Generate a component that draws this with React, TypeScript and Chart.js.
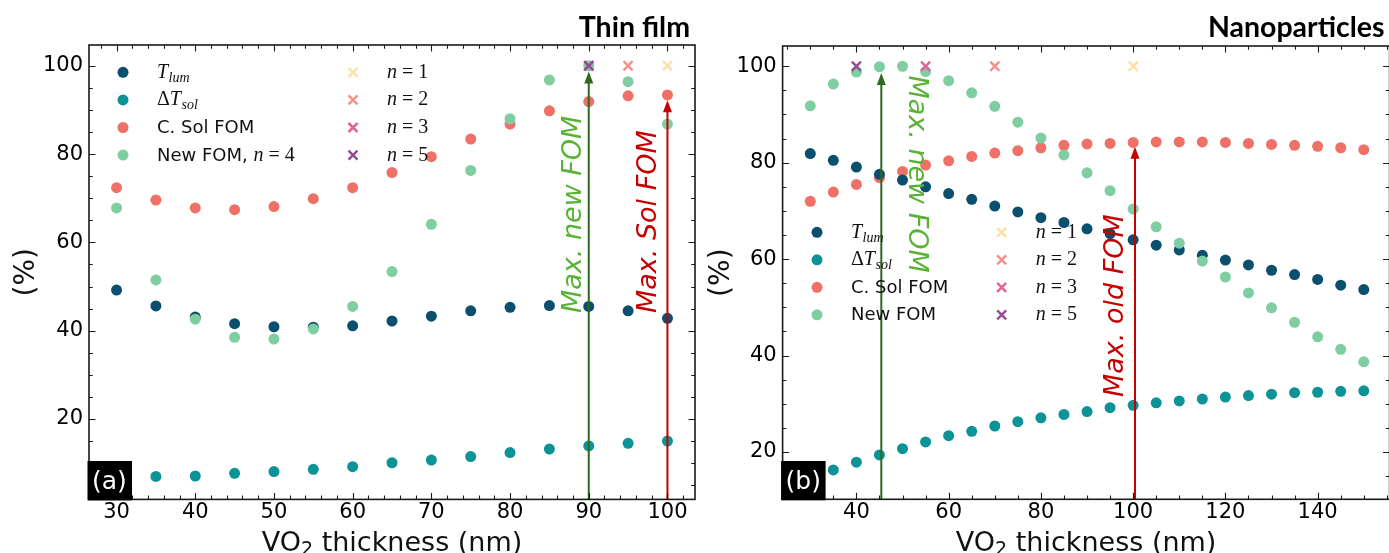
import React, { useEffect, useRef } from 'react';
import { Chart, registerables } from 'chart.js';

Chart.register(...registerables);

// ---------------- Data ----------------
// (a) Thin film
const thicknessFilm = [30, 35, 40, 45, 50, 55, 60, 65, 70, 75, 80, 85, 90, 95, 100];
const tlumFilm = [49.2, 45.6, 43.1, 41.6, 40.9, 40.8, 41.1, 42.2, 43.3, 44.5, 45.3, 45.7, 45.5, 44.5, 42.8];
const dTsolFilm = [6.4, 7.0, 7.1, 7.7, 8.1, 8.6, 9.2, 10.1, 10.7, 11.5, 12.4, 13.2, 13.9, 14.5, 15.0];
const solFomFilm = [72.4, 69.6, 67.8, 67.4, 68.1, 69.9, 72.4, 75.8, 79.4, 83.4, 86.8, 89.8, 91.9, 93.2, 93.4];
const newFomFilm = [67.8, 51.5, 42.6, 38.5, 38.1, 40.4, 45.5, 53.4, 64.1, 76.3, 88.0, 96.8, 100, 96.4, 86.8];

// (b) Nanoparticles
const thicknessNano = [30, 35, 40, 45, 50, 55, 60, 65, 70, 75, 80, 85, 90, 95, 100, 105, 110, 115, 120, 125, 130, 135, 140, 145, 150];
const tlumNano = [81.9, 80.5, 79.1, 77.6, 76.4, 75.0, 73.6, 72.4, 71.0, 69.8, 68.6, 67.6, 66.3, 65.3, 64.0, 62.9, 61.9, 60.8, 59.8, 58.8, 57.7, 56.8, 55.8, 54.6, 53.7];
const dTsolNano = [15.0, 16.3, 17.9, 19.4, 20.7, 22.1, 23.4, 24.3, 25.4, 26.3, 27.1, 27.8, 28.4, 29.2, 29.7, 30.2, 30.6, 31.0, 31.4, 31.7, 32.0, 32.3, 32.4, 32.6, 32.7];
const solFomNano = [72.0, 73.9, 75.5, 76.9, 78.2, 79.5, 80.4, 81.3, 82.0, 82.5, 83.1, 83.6, 83.9, 84.0, 84.2, 84.3, 84.3, 84.3, 84.2, 84.0, 83.8, 83.6, 83.4, 83.1, 82.7];
const newFomNano = [91.8, 96.3, 98.8, 99.9, 100, 98.9, 97.0, 94.5, 91.7, 88.4, 85.1, 81.6, 77.9, 74.2, 70.4, 66.7, 63.3, 59.6, 56.3, 53.0, 49.9, 46.9, 43.9, 41.3, 38.7];

// Optimum thickness of the new FOM for exponents n = 1, 2, 3, 5 (normalised to 100 %)
const nExponents = [1, 2, 3, 5];
const optThicknessFilm = [100, 95, 90, 90];
const optThicknessNano = [100, 70, 55, 40];
const optFomValue = 100;

// Arrows: [max new FOM, max Sol/old FOM]
const arrowXFilm = [90, 100];
const arrowTipFilm = [98.7, 92.2];
const arrowXNano = [45.4, 100.4];
const arrowTipNano = [98.6, 83.3];

// Tick labels
const xTicksFilm = [30, 40, 50, 60, 70, 80, 90, 100];
const yTicksFilm = [20, 40, 60, 80, 100];
const xTicksNano = [40, 60, 80, 100, 120, 140];
const yTicksNano = [20, 40, 60, 80, 100];

// ---------------- Styles ----------------
const C_TLUM = '#0a4f6e';
const C_DTSOL = '#0c9398';
const C_SOL = '#ef7067';
const C_NEW = '#7ecea1';
const C_N = ['#fde0a5', '#f6918a', '#e0649b', '#944c95'];
const C_ARROW_G = '#2d6a1f';
const C_TEXT_G = '#58b234';
const C_RED = '#c40000';

const SANS = '"DejaVu Sans", sans-serif';
const SERIF = '"Liberation Serif", serif';

type Axis = { min: number; max: number; minor: number; major: number; ticks: number[] };
type ArrowSpec = { x: number; tip: number; color: string; text: string; textColor: string; textX: number; textY: number; rot: number };
type Panel = {
  width: number;
  left: number;
  area: { left: number; top: number; right: number; bottom: number };
  xa: Axis;
  ya: Axis;
  thickness: number[];
  tlum: number[];
  dTsol: number[];
  solFom: number[];
  newFom: number[];
  opt: number[];
  newLabelN4: boolean;
  title: string;
  tag: string;
  legend: { c1: number; c2: number; dx: number; rows: number[] };
  arrows: ArrowSpec[];
  yTitleX: number;
};

const H = 553;

const panelA: Panel = {
  width: 712,
  left: 0,
  area: { left: 89, top: 45, right: 695, bottom: 499.4 },
  xa: { min: 26.5, max: 103.5, minor: 2, major: 10, ticks: xTicksFilm },
  ya: { min: 1.8, max: 104.7, minor: 5, major: 20, ticks: yTicksFilm },
  thickness: thicknessFilm,
  tlum: tlumFilm,
  dTsol: dTsolFilm,
  solFom: solFomFilm,
  newFom: newFomFilm,
  opt: optThicknessFilm,
  newLabelN4: true,
  title: 'Thin film',
  tag: '(a)',
  legend: { c1: 123, c2: 353, dx: 34, rows: [72.3, 99.9, 127.5, 155.1] },
  arrows: [
    { x: arrowXFilm[0], tip: arrowTipFilm[0], color: C_ARROW_G, text: 'Max. new FOM', textColor: C_TEXT_G, textX: 89, textY: 44, rot: -Math.PI / 2 },
    { x: arrowXFilm[1], tip: arrowTipFilm[1], color: C_RED, text: 'Max. Sol FOM', textColor: C_RED, textX: 98.5, textY: 44, rot: -Math.PI / 2 },
  ],
  yTitleX: 33.5,
};

const panelB: Panel = {
  width: 720,
  left: 700,
  area: { left: 82.6, top: 46, right: 689.6, bottom: 499.3 },
  xa: { min: 24, max: 155.6, minor: 5, major: 20, ticks: xTicksNano },
  ya: { min: 10.2, max: 104.2, minor: 5, major: 20, ticks: yTicksNano },
  thickness: thicknessNano,
  tlum: tlumNano,
  dTsol: dTsolNano,
  solFom: solFomNano,
  newFom: newFomNano,
  opt: optThicknessNano,
  newLabelN4: false,
  title: 'Nanoparticles',
  tag: '(b)',
  legend: { c1: 117, c2: 301.7, dx: 34, rows: [232.3, 259.8, 287.3, 314.8] },
  arrows: [
    { x: arrowXNano[0], tip: arrowTipNano[0], color: C_ARROW_G, text: 'Max. new FOM', textColor: C_TEXT_G, textX: 51.3, textY: 98.1, rot: Math.PI / 2 },
    { x: arrowXNano[1], tip: arrowTipNano[1], color: C_RED, text: 'Max. old FOM', textColor: C_RED, textX: 97.8, textY: 31.4, rot: -Math.PI / 2 },
  ],
  yTitleX: 28.5,
};

type Run = { t: string; f: string; dy?: number; gap?: number };

function drawRuns(ctx: CanvasRenderingContext2D, x: number, y: number, runs: Run[]) {
  let cx = x;
  for (const r of runs) {
    ctx.font = r.f;
    ctx.fillText(r.t, cx, y + (r.dy || 0));
    cx += ctx.measureText(r.t).width + (r.gap || 0);
  }
}

const MI = `italic 20px ${SERIF}`;
const MR = `20px ${SERIF}`;
const MS = `italic 14px ${SERIF}`;
const LEG = `18px ${SANS}`;
const DOT_R = 5.5;

function nRuns(k: number): Run[] {
  return [
    { t: 'n', f: MI, gap: 5 },
    { t: '=', f: MR, gap: 5 },
    { t: String(k), f: MR },
  ];
}

function dot(ctx: CanvasRenderingContext2D, x: number, y: number, color: string) {
  ctx.beginPath();
  ctx.arc(x, y, DOT_R, 0, Math.PI * 2);
  ctx.fillStyle = color;
  ctx.fill();
}

function cross(ctx: CanvasRenderingContext2D, x: number, y: number, color: string) {
  const d = 4.5;
  ctx.beginPath();
  ctx.moveTo(x - d, y - d);
  ctx.lineTo(x + d, y + d);
  ctx.moveTo(x + d, y - d);
  ctx.lineTo(x - d, y + d);
  ctx.strokeStyle = color;
  ctx.lineWidth = 2.5;
  ctx.stroke();
}

function makePlugin(p: Panel) {
  return {
    id: 'decor',
    afterDatasetsDraw(chart: any) {
      const ctx: CanvasRenderingContext2D = chart.ctx;
      const xs = chart.scales.x;
      const ys = chart.scales.y;
      const area = chart.chartArea;
      ctx.save();
      for (const a of p.arrows) {
        const px = xs.getPixelForValue(a.x);
        const tipY = ys.getPixelForValue(a.tip);
        const headL = 12;
        const headW = 4.5;
        ctx.strokeStyle = a.color;
        ctx.fillStyle = a.color;
        ctx.lineWidth = 2;
        ctx.beginPath();
        ctx.moveTo(px, area.bottom);
        ctx.lineTo(px, tipY + headL - 1);
        ctx.stroke();
        ctx.beginPath();
        ctx.moveTo(px, tipY);
        ctx.lineTo(px - headW, tipY + headL);
        ctx.lineTo(px + headW, tipY + headL);
        ctx.closePath();
        ctx.fill();

        ctx.save();
        ctx.translate(xs.getPixelForValue(a.textX), ys.getPixelForValue(a.textY));
        ctx.rotate(a.rot);
        ctx.font = `italic 27px ${SANS}`;
        ctx.fillStyle = a.textColor;
        ctx.textAlign = 'left';
        ctx.textBaseline = 'alphabetic';
        ctx.fillText(a.text, 0, 0);
        ctx.restore();
      }
      ctx.restore();
    },
    afterDraw(chart: any) {
      const ctx: CanvasRenderingContext2D = chart.ctx;
      const xs = chart.scales.x;
      const ys = chart.scales.y;
      const area = chart.chartArea;
      ctx.save();

      // frame
      ctx.strokeStyle = '#1a1a1a';
      ctx.lineWidth = 1.6;
      ctx.strokeRect(area.left, area.top, area.right - area.left, area.bottom - area.top);

      // inward ticks on all four sides
      ctx.lineWidth = 1.1;
      ctx.beginPath();
      for (let k = Math.ceil(p.xa.min / p.xa.minor); k * p.xa.minor <= p.xa.max; k++) {
        const v = k * p.xa.minor;
        const isMajor = Math.abs(v % p.xa.major) < 1e-9;
        const len = isMajor ? 6.5 : 3.8;
        const px = Math.round(xs.getPixelForValue(v)) + 0.5;
        ctx.moveTo(px, area.bottom);
        ctx.lineTo(px, area.bottom - len);
        ctx.moveTo(px, area.top);
        ctx.lineTo(px, area.top + len);
      }
      for (let k = Math.ceil(p.ya.min / p.ya.minor); k * p.ya.minor <= p.ya.max; k++) {
        const v = k * p.ya.minor;
        const isMajor = Math.abs(v % p.ya.major) < 1e-9;
        const len = isMajor ? 6.5 : 3.8;
        const py = Math.round(ys.getPixelForValue(v)) + 0.5;
        ctx.moveTo(area.left, py);
        ctx.lineTo(area.left + len, py);
        ctx.moveTo(area.right, py);
        ctx.lineTo(area.right - len, py);
      }
      ctx.stroke();

      // legend
      ctx.fillStyle = '#111';
      ctx.textAlign = 'left';
      ctx.textBaseline = 'alphabetic';
      const L = p.legend;
      const c1 = [C_TLUM, C_DTSOL, C_SOL, C_NEW];
      const labels1: Run[][] = [
        [{ t: 'T', f: MI, gap: 0.5 }, { t: 'lum', f: MS, dy: 4 }],
        [{ t: 'Δ', f: MR }, { t: 'T', f: MI, gap: 0.5 }, { t: 'sol', f: MS, dy: 4 }],
        [{ t: 'C. Sol FOM', f: LEG }],
        p.newLabelN4 ? [{ t: 'New FOM, ', f: LEG }, ...nRuns(4)] : [{ t: 'New FOM', f: LEG }],
      ];
      for (let i = 0; i < 4; i++) {
        const y = L.rows[i];
        dot(ctx, L.c1, y, c1[i]);
        ctx.fillStyle = '#111';
        drawRuns(ctx, L.c1 + L.dx, y + 5.5, labels1[i]);
      }
      for (let i = 0; i < nExponents.length; i++) {
        const y = L.rows[i];
        cross(ctx, L.c2, y, C_N[i]);
        ctx.fillStyle = '#111';
        drawRuns(ctx, L.c2 + L.dx, y + 5.5, nRuns(nExponents[i]));
      }

      // panel tag box
      const bx0 = area.left - 1.5;
      const by0 = 461;
      ctx.fillStyle = '#000';
      ctx.fillRect(bx0, by0, 44.5, area.bottom + 1 - by0);
      ctx.fillStyle = '#fff';
      ctx.font = `25px ${SANS}`;
      ctx.fillText(p.tag, bx0 + 4.5, 488.5);

      // title
      ctx.fillStyle = '#000';
      ctx.font = `bold 28.5px Lato, "Open Sans", sans-serif`;
      ctx.textAlign = 'right';
      ctx.fillText(p.title, area.right - 5, 37);

      // x axis title with subscript
      ctx.textAlign = 'left';
      ctx.fillStyle = '#111';
      const f1 = `27px ${SANS}`;
      const f2 = `19px ${SANS}`;
      ctx.font = f1;
      const wVO = ctx.measureText('VO').width;
      const wRest = ctx.measureText(' thickness (nm)').width;
      ctx.font = f2;
      const w2 = ctx.measureText('2').width;
      const total = wVO + w2 + wRest;
      const cx = (area.left + area.right) / 2;
      drawRuns(ctx, cx - total / 2, 551, [
        { t: 'VO', f: f1 },
        { t: '2', f: f2, dy: 4 },
        { t: ' thickness (nm)', f: f1 },
      ]);

      // y axis title
      ctx.save();
      ctx.translate(p.yTitleX, (area.top + area.bottom) / 2);
      ctx.rotate(-Math.PI / 2);
      ctx.font = `28px ${SANS}`;
      ctx.textAlign = 'center';
      ctx.fillText('(%)', 0, 0);
      ctx.restore();

      ctx.restore();
    },
  };
}

function buildConfig(p: Panel): any {
  const pts = (ys: number[], xs: number[]) => xs.map((x, i) => ({ x, y: ys[i] }));
  const dotDs = (label: string, data: number[], color: string, order: number) => ({
    label,
    data: pts(data, p.thickness),
    pointStyle: 'circle',
    pointRadius: DOT_R,
    pointBackgroundColor: color,
    pointBorderWidth: 0,
    pointBorderColor: color,
    showLine: false,
    order,
  });
  const crossDs = p.opt.map((t, i) => ({
    label: `n = ${nExponents[i]}`,
    data: [{ x: t, y: optFomValue }],
    pointStyle: 'crossRot',
    pointRadius: 6.4,
    pointBorderColor: C_N[i],
    pointBackgroundColor: C_N[i],
    pointBorderWidth: 2.5,
    showLine: false,
    order: 4 - i,
  }));
  const tickFont = { family: SANS, size: 21 };
  const W = p.width;
  return {
    type: 'scatter',
    data: {
      datasets: [
        dotDs('T_lum', p.tlum, C_TLUM, p.newLabelN4 ? 9 : 6.5),
        dotDs('ΔT_sol', p.dTsol, C_DTSOL, 8),
        dotDs('C. Sol FOM', p.solFom, C_SOL, 7),
        dotDs(p.newLabelN4 ? 'New FOM, n = 4' : 'New FOM', p.newFom, C_NEW, 6),
        ...crossDs,
      ],
    },
    options: {
      responsive: false,
      animation: false,
      devicePixelRatio: 1,
      layout: { padding: { left: 0, top: p.area.top, right: W - p.area.right, bottom: 0 } },
      plugins: { legend: { display: false }, tooltip: { enabled: false }, title: { display: false } },
      scales: {
        x: {
          type: 'linear',
          min: p.xa.min,
          max: p.xa.max,
          grid: { display: false, drawTicks: false },
          border: { display: false },
          afterBuildTicks: (s: any) => {
            s.ticks = p.xa.ticks.map((value) => ({ value }));
          },
          afterFit: (s: any) => {
            s.height = H - p.area.bottom;
          },
          ticks: { font: tickFont, color: '#000', padding: 1, maxRotation: 0, autoSkip: false },
        },
        y: {
          type: 'linear',
          min: p.ya.min,
          max: p.ya.max,
          grid: { display: false, drawTicks: false },
          border: { display: false },
          afterBuildTicks: (s: any) => {
            s.ticks = p.ya.ticks.map((value) => ({ value }));
          },
          afterFit: (s: any) => {
            s.width = p.area.left;
          },
          ticks: { font: tickFont, color: '#000', padding: 6, autoSkip: false },
        },
      },
    },
    plugins: [makePlugin(p)],
  };
}

function PanelChart({ p }: { p: Panel }) {
  const ref = useRef<HTMLCanvasElement | null>(null);
  useEffect(() => {
    if (!ref.current) return;
    const chart = new Chart(ref.current, buildConfig(p));
    return () => chart.destroy();
  }, [p]);
  return (
    <canvas
      ref={ref}
      width={p.width}
      height={H}
      style={{ position: 'absolute', left: p.left, top: 0, width: p.width, height: H }}
    />
  );
}

export default function App() {
  return (
    <div
      style={{
        position: 'fixed',
        left: 0,
        top: 0,
        width: 1389,
        height: H,
        overflow: 'hidden',
        background: '#fff',
      }}
    >
      <PanelChart p={panelA} />
      <PanelChart p={panelB} />
    </div>
  );
}
